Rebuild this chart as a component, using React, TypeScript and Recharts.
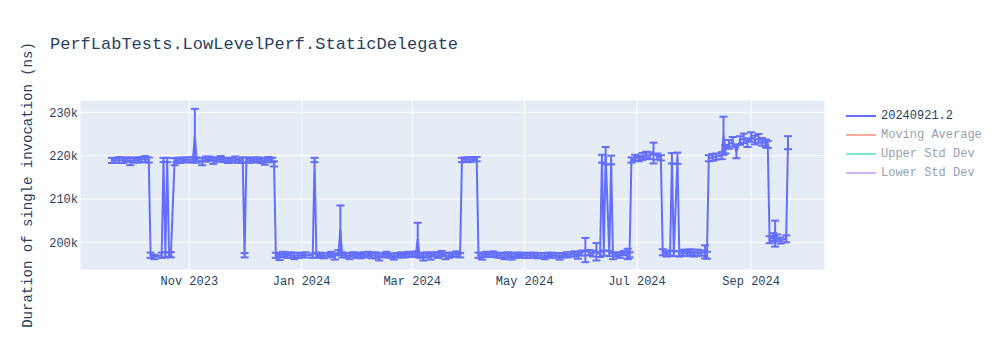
import React from 'react';
import { LineChart, Line, XAxis, YAxis, CartesianGrid, ErrorBar } from 'recharts';

// one entry per benchmark run
const runDates = [
    '2023-09-20', '2023-09-22', '2023-09-24', '2023-09-26', '2023-09-28', '2023-09-30', '2023-10-02', '2023-10-04', '2023-10-06', '2023-10-08',
    '2023-10-10', '2023-10-11', '2023-10-13', '2023-10-17', '2023-10-18', '2023-10-19', '2023-10-20', '2023-10-21', '2023-10-22', '2023-10-24',
    '2023-10-25', '2023-10-27', '2023-10-29', '2023-10-31', '2023-11-03', '2023-11-04', '2023-11-05', '2023-11-08', '2023-11-10', '2023-11-12',
    '2023-11-14', '2023-11-16', '2023-11-18', '2023-11-20', '2023-11-22', '2023-11-24', '2023-11-26', '2023-11-28', '2023-11-30', '2023-12-01',
    '2023-12-02', '2023-12-04', '2023-12-06', '2023-12-08', '2023-12-10', '2023-12-12', '2023-12-14', '2023-12-16', '2023-12-17', '2023-12-18',
    '2023-12-20', '2023-12-22', '2023-12-24', '2023-12-26', '2023-12-28', '2023-12-30', '2024-01-01', '2024-01-03', '2024-01-07', '2024-01-08',
    '2024-01-09', '2024-01-11', '2024-01-13', '2024-01-15', '2024-01-17', '2024-01-19', '2024-01-21', '2024-01-22', '2024-01-23', '2024-01-25',
    '2024-01-27', '2024-01-29', '2024-01-31', '2024-02-02', '2024-02-04', '2024-02-06', '2024-02-08', '2024-02-10', '2024-02-12', '2024-02-14',
    '2024-02-16', '2024-02-18', '2024-02-20', '2024-02-22', '2024-02-24', '2024-02-26', '2024-02-28', '2024-03-01', '2024-03-03', '2024-03-04',
    '2024-03-05', '2024-03-07', '2024-03-09', '2024-03-11', '2024-03-13', '2024-03-15', '2024-03-17', '2024-03-19', '2024-03-21', '2024-03-23',
    '2024-03-25', '2024-03-27', '2024-03-28', '2024-03-30', '2024-04-01', '2024-04-03', '2024-04-05', '2024-04-06', '2024-04-08', '2024-04-10',
    '2024-04-12', '2024-04-14', '2024-04-16', '2024-04-18', '2024-04-20', '2024-04-22', '2024-04-24', '2024-04-26', '2024-04-28', '2024-04-30',
    '2024-05-02', '2024-05-04', '2024-05-06', '2024-05-08', '2024-05-10', '2024-05-12', '2024-05-14', '2024-05-16', '2024-05-18', '2024-05-20',
    '2024-05-22', '2024-05-24', '2024-05-26', '2024-05-28', '2024-05-30', '2024-06-01', '2024-06-03', '2024-06-05', '2024-06-07', '2024-06-09',
    '2024-06-11', '2024-06-12', '2024-06-13', '2024-06-14', '2024-06-16', '2024-06-17', '2024-06-18', '2024-06-20', '2024-06-22', '2024-06-24',
    '2024-06-26', '2024-06-27', '2024-06-28', '2024-06-30', '2024-07-02', '2024-07-04', '2024-07-06', '2024-07-08', '2024-07-10', '2024-07-12',
    '2024-07-14', '2024-07-15', '2024-07-17', '2024-07-19', '2024-07-20', '2024-07-21', '2024-07-23', '2024-07-24', '2024-07-26', '2024-07-28',
    '2024-07-30', '2024-08-01', '2024-08-03', '2024-08-05', '2024-08-07', '2024-08-08', '2024-08-09', '2024-08-11', '2024-08-13', '2024-08-16',
    '2024-08-17', '2024-08-18', '2024-08-20', '2024-08-22', '2024-08-24', '2024-08-26', '2024-08-28', '2024-08-30', '2024-09-01', '2024-09-03',
    '2024-09-05', '2024-09-07', '2024-09-09', '2024-09-10', '2024-09-11', '2024-09-13', '2024-09-14', '2024-09-15', '2024-09-17', '2024-09-20',
    '2024-09-21',
];

// ns
const durations = [
    218900, 218800, 219000, 218900, 219100, 218600, 219000, 218900, 219100, 219200,
    219000, 197000, 196600, 197000, 219000, 197100, 219000, 197200, 197100, 218600,
    219000, 218900, 219100, 219000, 219200, 224600, 219000, 218600, 219200, 219300,
    218800, 219100, 219300, 219000, 218900, 219000, 219100, 218800, 219000, 197000,
    219000, 218900, 219000, 219100, 218900, 218600, 219100, 219000, 218100, 197000,
    196600, 197200, 196900, 197100, 196800, 197000, 197000, 197100, 196900, 219000,
    197000, 197100, 196900, 197000, 197200, 196700, 197600, 203000, 197100, 197000,
    196800, 197200, 197000, 196800, 197100, 197300, 196900, 197000, 196600, 197000,
    197200, 196900, 196700, 197000, 197100, 197000, 197200, 197100, 197300, 200700,
    197000, 196600, 197100, 196700, 197200, 197000, 197400, 196800, 197000, 197100,
    197300, 197000, 219000, 219100, 219100, 219200, 219200, 197000, 196700, 197200,
    197100, 197300, 197000, 197000, 196800, 197100, 196700, 197000, 197100, 197000,
    196900, 197000, 197100, 196900, 197000, 196800, 197100, 197000, 197000, 196700,
    197000, 197100, 197200, 197300, 196900, 197500, 198200, 197600, 197400, 197800,
    197200, 219300, 197500, 220000, 197400, 219000, 196800, 197200, 197000, 197500,
    197300, 197100, 219000, 219500, 219300, 219800, 220200, 220000, 220600, 219800,
    219500, 197700, 197300, 197500, 219400, 197400, 219400, 197300, 197600, 197400,
    197700, 197300, 197600, 197500, 197800, 197000, 219400, 219600, 219800, 220000,
    224600, 221500, 222600, 223200, 221000, 223500, 224000, 223000, 224300, 223600,
    224000, 223200, 222800, 222600, 200600, 201200, 202000, 201000, 200400, 200800,
    223000,
];

// std dev, ns
const stdDevs = [
    600, 500, 700, 600, 500, 800, 600, 500, 600, 700,
    600, 600, 500, 600, 500, 600, 500, 500, 600, 800,
    500, 600, 500, 600, 500, 6200, 600, 800, 600, 500,
    700, 500, 600, 500, 600, 500, 700, 500, 600, 500,
    600, 500, 600, 500, 600, 700, 600, 500, 600, 600,
    700, 600, 500, 600, 700, 600, 500, 600, 500, 500,
    600, 500, 600, 500, 600, 700, 600, 5500, 600, 500,
    700, 500, 600, 500, 600, 500, 600, 700, 800, 500,
    600, 500, 700, 500, 600, 500, 600, 500, 600, 3800,
    600, 800, 600, 700, 500, 600, 600, 700, 600, 500,
    600, 500, 500, 500, 600, 500, 500, 600, 700, 600,
    500, 600, 500, 600, 700, 600, 700, 600, 500, 600,
    500, 600, 500, 600, 500, 700, 500, 600, 500, 700,
    500, 600, 500, 600, 700, 600, 2800, 600, 700, 2000,
    600, 900, 600, 2000, 600, 1000, 700, 500, 600, 500,
    1200, 600, 600, 700, 600, 800, 700, 800, 2400, 700,
    600, 700, 600, 600, 1200, 600, 1300, 600, 700, 600,
    700, 600, 700, 600, 1500, 800, 700, 800, 700, 800,
    4400, 1000, 1000, 1100, 1600, 1000, 1100, 1000, 1100, 1000,
    1000, 900, 900, 800, 800, 900, 3000, 800, 700, 800,
    1500,
];

const monthTicks = ['2023-11-01', '2024-01-01', '2024-03-01', '2024-05-01', '2024-07-01', '2024-09-01'];
const yTicks = [200000, 210000, 220000, 230000];
const xRange = ['2023-09-02T16:00:00Z', '2024-10-11T02:00:00Z'];
const yRange = [193600, 232850];

const legendItems = [
    { name: '20240921.2', color: '#636efa', hidden: false },
    { name: 'Moving Average', color: '#ef553b', hidden: true },
    { name: 'Upper Std Dev', color: '#00cc96', hidden: true },
    { name: 'Lower Std Dev', color: '#ab63fa', hidden: true },
];

const MONTHS = ['Jan', 'Feb', 'Mar', 'Apr', 'May', 'Jun', 'Jul', 'Aug', 'Sep', 'Oct', 'Nov', 'Dec'];
const FONT = '"Liberation Mono", "Courier New", monospace';
const TEXT = '#2a3f5f';

const chartData = runDates.map((d, i) => ({
    t: Date.parse(d),
    duration: durations[i],
    err: stdDevs[i],
}));

const fmtDate = (t: number) => {
    const d = new Date(t);
    return `${MONTHS[d.getUTCMonth()]} ${d.getUTCFullYear()}`;
};

export default function App() {
    return (
        <div style={{ position: 'absolute', left: 0, top: 0, width: 1000, height: 350, background: '#fff' }}>
            <LineChart
                width={1000}
                height={350}
                data={chartData}
                margin={{ top: 100, right: 175, bottom: 50, left: 0 }}
            >
                <CartesianGrid fill="#e5ecf6" stroke="#ffffff" strokeWidth={1} />
                <XAxis
                    dataKey="t"
                    type="number"
                    scale="time"
                    domain={xRange.map((s) => Date.parse(s))}
                    ticks={monthTicks.map((s) => Date.parse(s))}
                    tickFormatter={fmtDate}
                    height={30}
                    axisLine={false}
                    tickLine={false}
                    tickMargin={0}
                    tick={{ fontFamily: FONT, fontSize: 12, fill: TEXT }}
                />
                <YAxis
                    type="number"
                    domain={yRange}
                    ticks={yTicks}
                    tickFormatter={(v: number) => `${v / 1000}k`}
                    width={80}
                    axisLine={false}
                    tickLine={false}
                    tickSize={0}
                    tickMargin={2}
                    tick={{ fontFamily: FONT, fontSize: 12, fill: TEXT }}
                />
                <Line
                    type="linear"
                    dataKey="duration"
                    stroke="#636efa"
                    strokeWidth={2}
                    dot={false}
                    activeDot={false}
                    isAnimationActive={false}
                >
                    <ErrorBar dataKey="err" direction="y" width={4} strokeWidth={2} stroke="#636efa" isAnimationActive={false} />
                </Line>
            </LineChart>

            <div style={{ position: 'absolute', left: 50, top: 35, fontFamily: FONT, fontSize: 17, color: TEXT, whiteSpace: 'nowrap' }}>
                PerfLabTests.LowLevelPerf.StaticDelegate
            </div>

            <div
                style={{
                    position: 'absolute',
                    left: 28,
                    top: 185,
                    transform: 'translate(-50%, -50%) rotate(-90deg)',
                    fontFamily: FONT,
                    fontSize: 14,
                    color: TEXT,
                    whiteSpace: 'nowrap',
                }}
            >
                Duration of single invocation (ns)
            </div>

            <div style={{ position: 'absolute', left: 846, top: 106 }}>
                {legendItems.map((item) => (
                    <div
                        key={item.name}
                        style={{ display: 'flex', alignItems: 'center', height: 19, opacity: item.hidden ? 0.5 : 1 }}
                    >
                        <svg width={30} height={4} style={{ marginRight: 5 }}>
                            <line x1={0} y1={2} x2={30} y2={2} stroke={item.color} strokeWidth={2} />
                        </svg>
                        <span style={{ fontFamily: FONT, fontSize: 12, color: TEXT, whiteSpace: 'nowrap' }}>{item.name}</span>
                    </div>
                ))}
            </div>
        </div>
    );
}
